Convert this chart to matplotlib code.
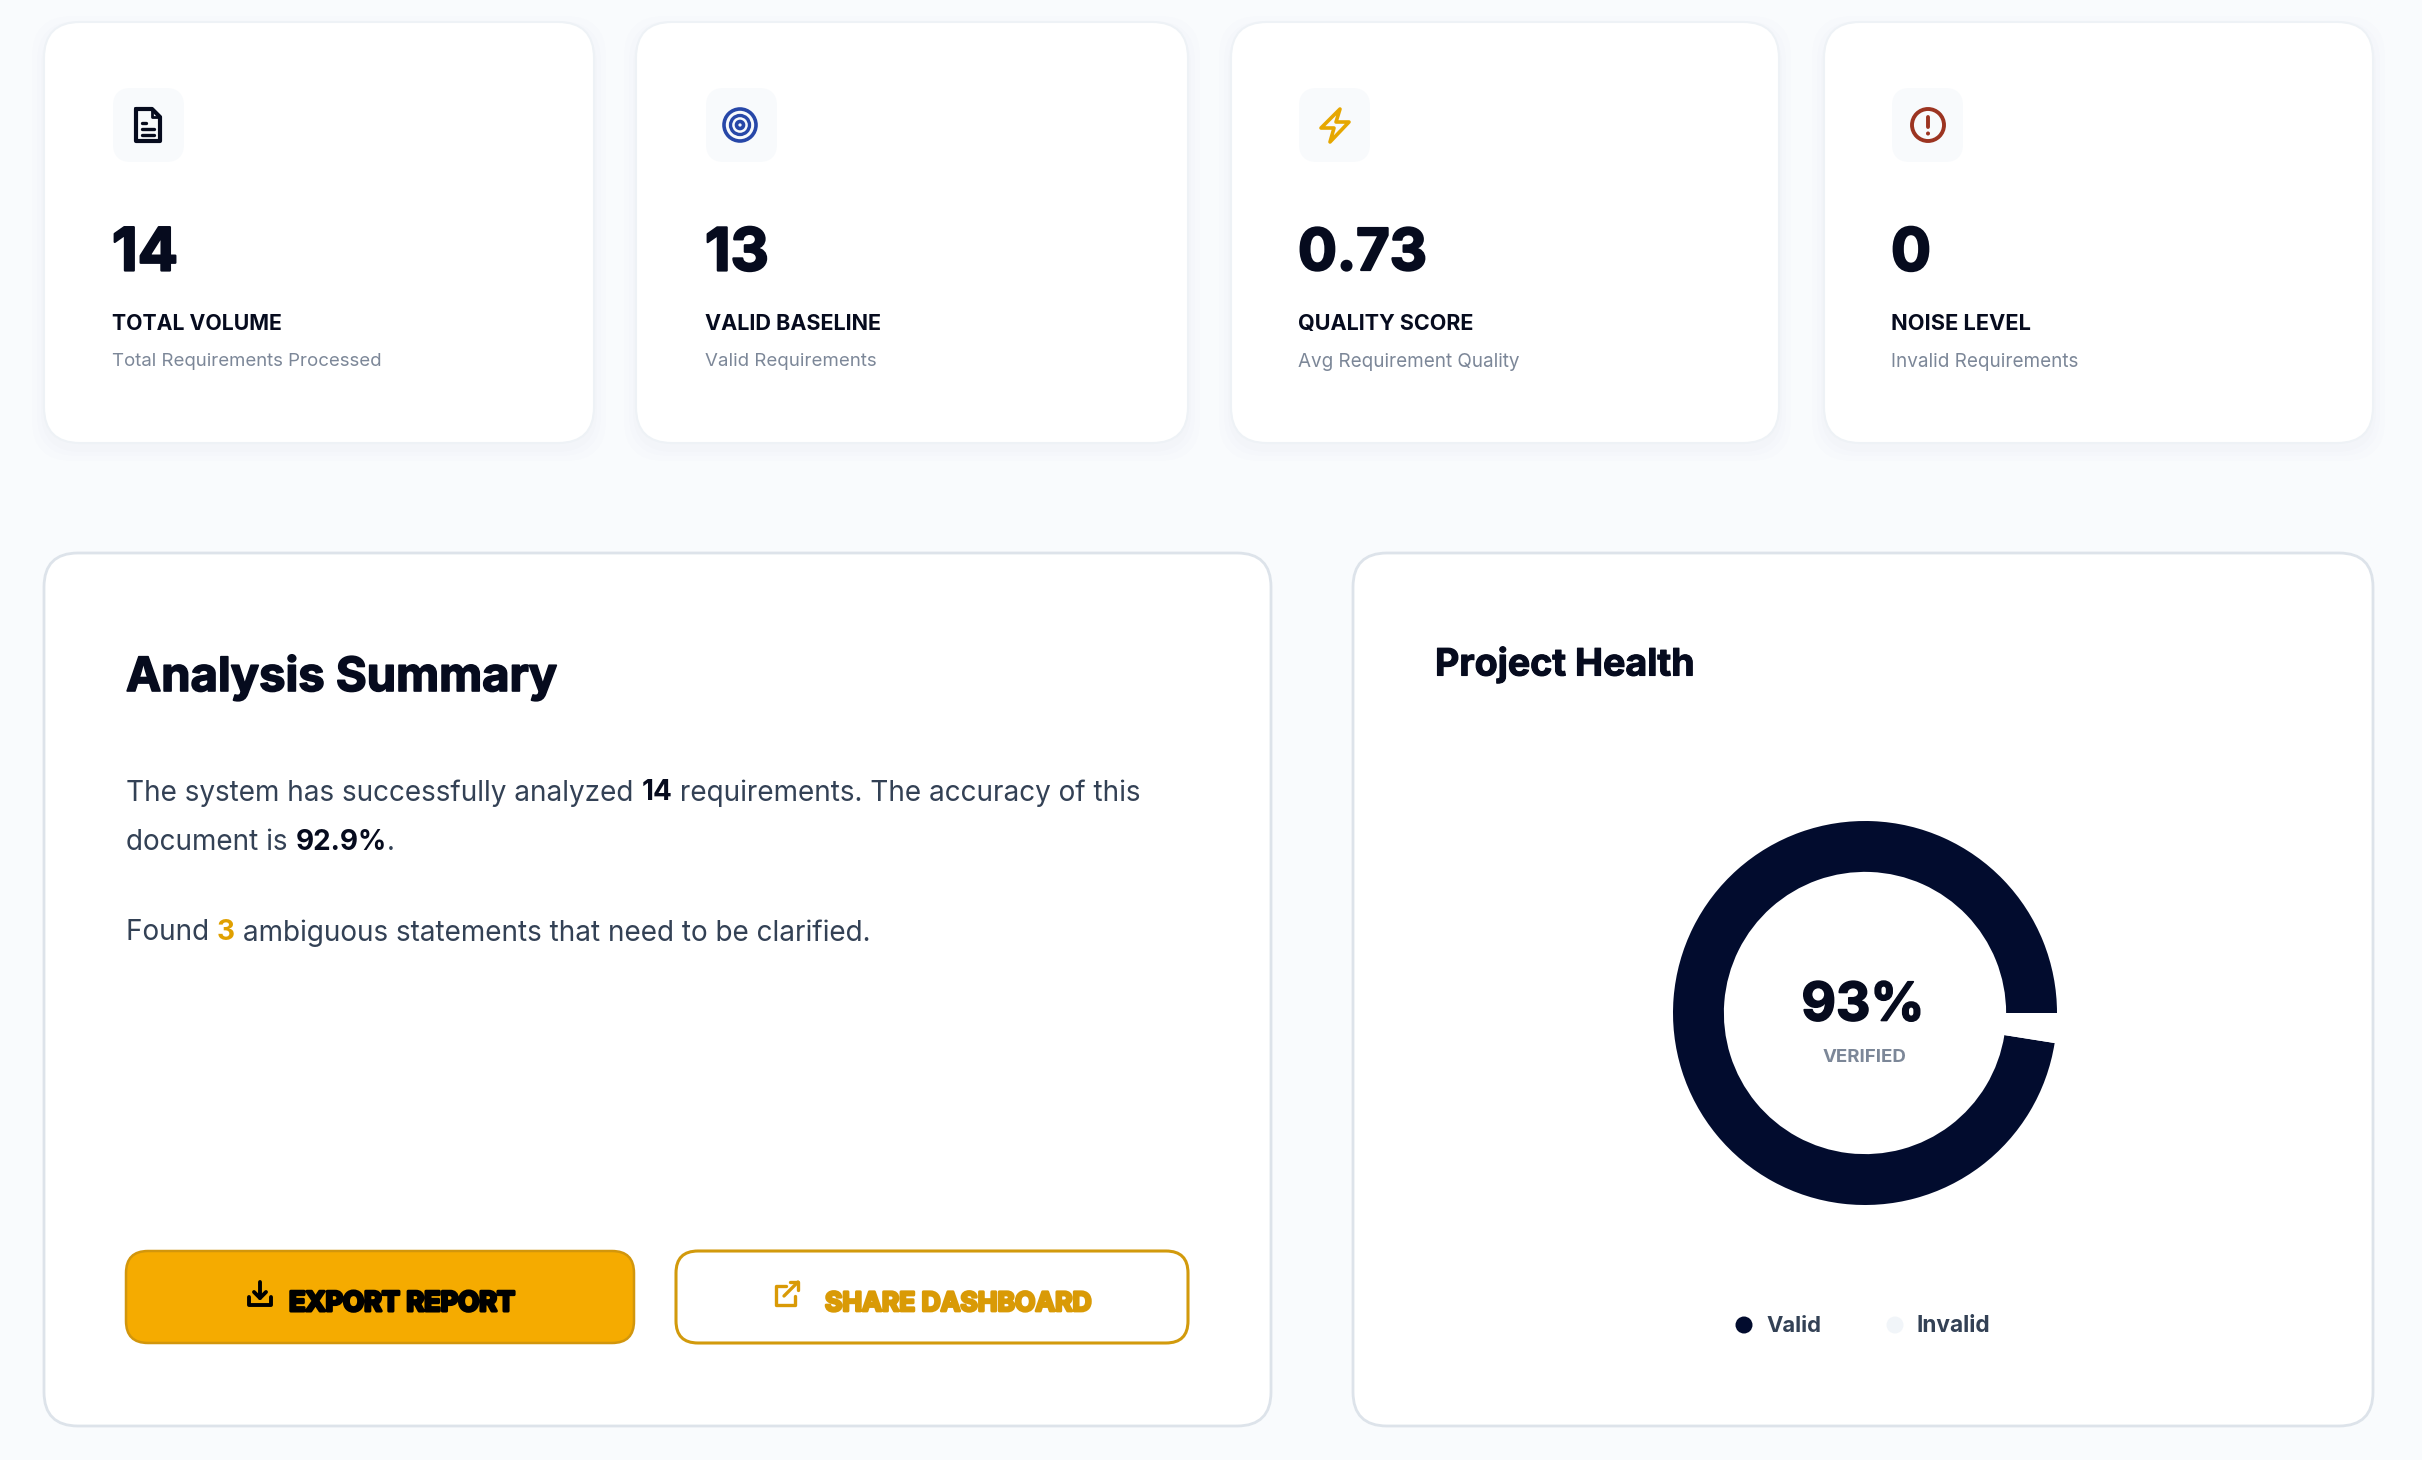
import matplotlib
matplotlib.use("Agg")
import matplotlib.pyplot as plt
import matplotlib.patheffects as pe
from matplotlib.patches import FancyBboxPatch, Circle, Polygon

# ---------- data ----------
kpi_values = ["14", "13", "0.73", "0"]
kpi_titles = ["TOTAL VOLUME", "VALID BASELINE", "QUALITY SCORE", "NOISE LEVEL"]
kpi_subtitles = ["Total Requirements Processed", "Valid Requirements",
                 "Avg Requirement Quality", "Invalid Requirements"]
donut_labels = ["Valid", "Invalid"]
donut_values = [351, 9]          # arc sizes as drawn, in degrees
donut_center_value = "93%"
donut_center_label = "VERIFIED"
summary_title = "Analysis Summary"
health_title = "Project Health"
button_labels = ["EXPORT REPORT", "SHARE DASHBOARD"]

# ---------- palette ----------
BG = "#f9fbfd"
INK = "#060b1e"
NAVY = "#020c2e"
BODY = "#334155"
MUTED = "#7c8798"
AMBER = "#f5ab00"
AMBER_D = "#d99a06"
FONT = "Inter"

W, H = 2422, 1460
fig = plt.figure(figsize=(W / 100, H / 100), dpi=100, facecolor=BG)
ax = fig.add_axes([0, 0, 1, 1])
ax.set_xlim(0, W)
ax.set_ylim(H, 0)
ax.axis("off")
renderer = fig.canvas.get_renderer()


def box(x0, y0, x1, y1, r, fc, ec="none", lw=0, z=1, alpha=None):
    p = FancyBboxPatch((x0, y0), x1 - x0, y1 - y0,
                       boxstyle=f"round,pad=0,rounding_size={r}",
                       fc=fc, ec=ec, lw=lw, zorder=z, alpha=alpha)
    ax.add_patch(p)
    return p


def text_width(s, size, weight):
    t = ax.text(0, 0, s, fontsize=size, fontweight=weight, family=FONT)
    w = t.get_window_extent(renderer).width
    t.remove()
    return w


def label(x, y, s, width, color, weight="normal", ha="left", stroke=0, z=5):
    """Text whose font size is chosen to span the given pixel width."""
    size = 20 * width / text_width(s, 20, weight)
    t = ax.text(x, y, s, fontsize=size, fontweight=weight, family=FONT,
                color=color, ha=ha, va="center_baseline", zorder=z)
    if stroke:
        t.set_path_effects([pe.withStroke(linewidth=stroke, foreground=color)])
    return t


def runs(x, y, parts, size):
    """Consecutive text runs on one line: (string, colour, weight)."""
    for s, color, weight in parts:
        ax.text(x, y, s, fontsize=size, fontweight=weight, family=FONT,
                color=color, ha="left", va="center_baseline", zorder=5)
        padded = text_width("|" + s + "|", size, weight) - text_width("||", size, weight)
        x += padded


# ---------- KPI cards ----------
card_x = [(44, 594), (636, 1188), (1231, 1779), (1824, 2373)]
text_x = [112, 705, 1298, 1891]
value_w = [66, 64, 129, 40]
title_w = [170, 177, 176, 140]
sub_w = [270, 171, 221, 187]
for i, (x0, x1) in enumerate(card_x):
    for grow, a in ((12, .006), (7, .008), (3, .010)):
        box(x0 - grow, 22 - grow + 6, x1 + grow, 443 + grow + 6, 40, "#64748b", z=1, alpha=a)
    box(x0, 22, x1, 443, 36, "white", "#eef2f6", 1.5, z=2)
    tx = text_x[i]
    box(tx + 1, 88, tx + 72, 162, 18, "#f8fafc", z=3)
    label(tx, 249, kpi_values[i], value_w[i], INK, "bold", stroke=1.6)
    label(tx, 322, kpi_titles[i], title_w[i], INK, "bold")
    label(tx, 360, kpi_subtitles[i], sub_w[i], MUTED)

# icons
def L(xs, ys, c, lw=2.6):
    ax.plot(xs, ys, color=c, lw=lw, solid_capstyle="round", solid_joinstyle="round", zorder=6)

cx, cy = 148, 125
L([cx - 12, cx + 4, cx + 12, cx + 12, cx - 12, cx - 12],
  [cy - 16, cy - 16, cy - 8, cy + 16, cy + 16, cy - 16], INK, 3)
L([cx + 4, cx + 4, cx + 12], [cy - 16, cy - 8, cy - 8], INK, 2)
for dy, x2 in ((-2, -2), (4, 6), (10, 6)):
    L([cx - 6, cx + x2], [cy + dy, cy + dy], INK, 2.4)

cx = 740
for r, lw in ((16, 2.6), (9.5, 2.4), (3.5, 2.6)):
    ax.add_patch(Circle((cx, cy), r, fc="none", ec="#2747a8", lw=lw, zorder=6))

cx = 1335
ax.add_patch(Polygon([(cx + 5, cy - 16), (cx - 14, cy + 3), (cx - 1, cy + 3), (cx - 5, cy + 17),
                      (cx + 14, cy - 3), (cx + 1, cy - 3)], closed=True, fc="none",
                     ec="#e6a700", lw=2.6, joinstyle="round", zorder=6))

cx = 1928
ax.add_patch(Circle((cx, cy), 16, fc="none", ec="#9c3421", lw=2.8, zorder=6))
L([cx, cx], [cy - 8, cy + 2], "#9c3421", 2.8)
ax.add_patch(Circle((cx, cy + 8.5), 2, fc="#9c3421", ec="none", zorder=6))

# ---------- panels ----------
for x0, x1 in ((44, 1271), (1353, 2373)):
    box(x0, 553, x1, 1426, 34, "white", "#dde3ea", 2.0, z=2)

label(126, 673, summary_title, 432, INK, "bold", stroke=1.2)
label(1435, 661, health_title, 260, INK, "bold", stroke=0.8)
SIZE = 20.1
runs(126, 790, [("The system has successfully analyzed ", BODY, "normal"), ("14", INK, "bold"),
                (" requirements. The accuracy of this", BODY, "normal")], SIZE)
runs(126, 840, [("document is ", BODY, "normal"), ("92.9%", INK, "bold"), (".", BODY, "normal")], SIZE)
runs(126, 930, [("Found ", BODY, "normal"), ("3", "#e0a000", "bold"),
                (" ambiguous statements that need to be clarified.", BODY, "normal")], SIZE)

# buttons
box(126, 1251, 634, 1343, 22, AMBER, "#d2960c", 1.8, z=3)
box(676, 1251, 1188, 1343, 22, "white", "#d29a0c", 2.2, z=3)
label(289, 1301, button_labels[0], 226, "#000000", "bold", stroke=2.2)
label(825, 1301, button_labels[1], 267, AMBER_D, "bold", stroke=2.0)

# download icon
cx, cy = 260, 1294
L([cx, cx], [cy - 12, cy + 4], "black", 2.8)
L([cx - 6, cx, cx + 6], [cy - 2, cy + 4, cy - 2], "black", 2.8)
L([cx - 11, cx - 11, cx + 11, cx + 11], [cy + 3, cy + 11, cy + 11, cy + 3], "black", 2.8)
# share icon
cx, cy = 787, 1294
L([cx - 1, cx - 11, cx - 11, cx + 8, cx + 8], [cy - 8, cy - 8, cy + 11, cy + 11, cy + 2], AMBER_D, 2.4)
L([cx - 3, cx + 11], [cy + 2, cy - 12], AMBER_D, 2.4)
L([cx + 3, cx + 11, cx + 11], [cy - 12, cy - 12, cy - 4], AMBER_D, 2.4)

# ---------- donut ----------
label_y = 1324
cxd, cyd, R = 1865, 1013, 192
dax = fig.add_axes([(cxd - R) / W, 1 - (cyd + R) / H, 2 * R / W, 2 * R / H], zorder=4)
dax.patch.set_alpha(0)
dax.pie(donut_values, colors=[NAVY, "white"], startangle=0, counterclock=True, radius=1,
        wedgeprops=dict(width=0.265, linewidth=0))
dax.set_xlim(-1, 1)
dax.set_ylim(-1, 1)
dax.set_aspect("equal")

label(1863, 1001, donut_center_value, 123, INK, "bold", ha="center", stroke=1.2)
label(1864, 1055, donut_center_label, 84, MUTED, "bold", ha="center")

ax.add_patch(Circle((1744, 1325), 8.5, fc=NAVY, ec="none", zorder=5))
ax.add_patch(Circle((1895, 1325), 8.5, fc="#f1f5f9", ec="none", zorder=5))
label(1766, label_y, donut_labels[0], 55, BODY, "bold")
label(1917, label_y, donut_labels[1], 74, BODY, "bold")

fig.savefig("out.png", dpi=100, facecolor=BG)
